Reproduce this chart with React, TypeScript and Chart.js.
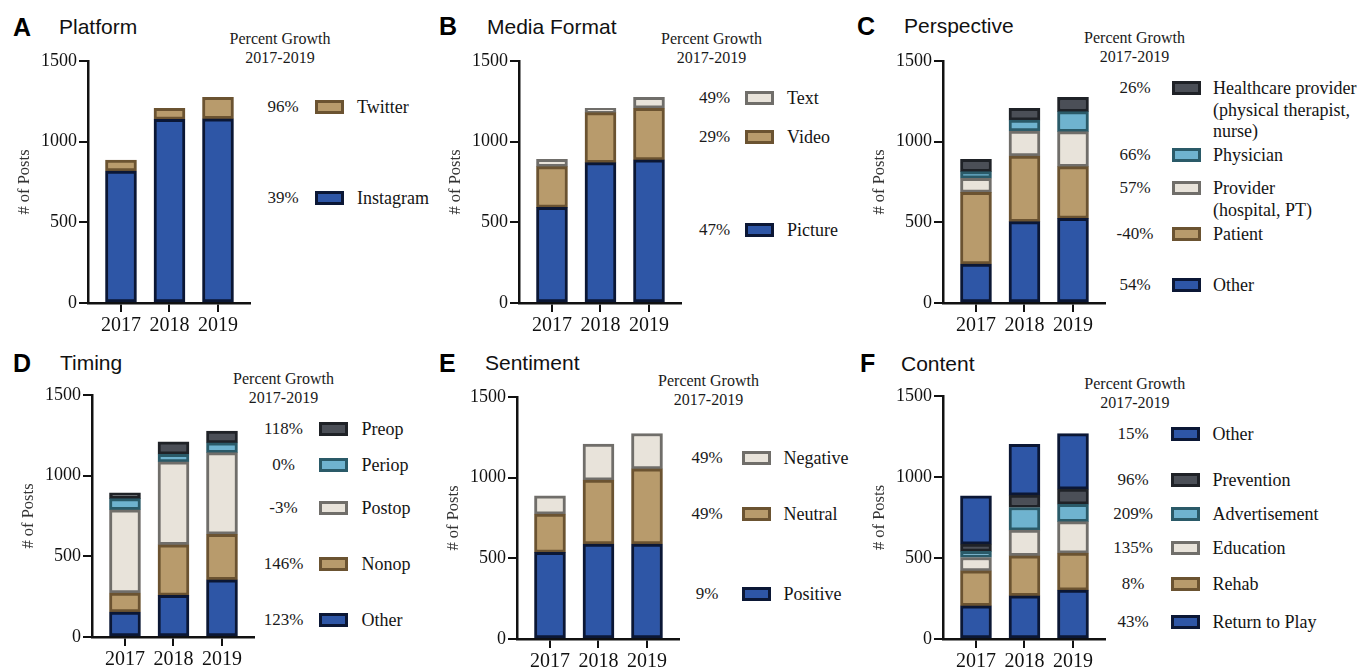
import React, { useEffect, useRef } from 'react';
import { Chart, registerables } from 'chart.js';

Chart.register(...registerables);

// ---------- data ----------
const YEARS = ['2017', '2018', '2019'];
const Y_TICKS = [0, 500, 1000, 1500];
const Y_TICK_LABELS = ['0', '500', '1000', '1500'];

// A Platform
const A_INSTAGRAM = [818, 1138, 1142];
const A_TWITTER = [68, 68, 133];
const A_PCT = ['96%', '39%'];

// B Media Format
const B_PICTURE = [593, 870, 887];
const B_VIDEO = [252, 310, 320];
const B_TEXT = [46, 27, 68];
const B_PCT = ['49%', '29%', '47%'];

// C Perspective
const C_OTHER = [242, 504, 525];
const C_PATIENT = [444, 407, 320];
const C_PROVIDER = [87, 155, 217];
const C_PHYSICIAN = [41, 68, 124];
const C_HEALTHCARE = [77, 73, 89];
const C_PCT = ['26%', '66%', '57%', '-40%', '54%'];

// D Timing
const D_OTHER = [155, 258, 355];
const D_NONOP = [118, 314, 282];
const D_POSTOP = [516, 513, 506];
const D_PERIOP = [69, 48, 60];
const D_PREOP = [35, 76, 74];
const D_PCT = ['118%', '0%', '-3%', '146%', '123%'];

// E Sentiment
const E_POSITIVE = [537, 589, 589];
const E_NEUTRAL = [237, 396, 465];
const E_NEGATIVE = [113, 223, 220];
const E_PCT = ['49%', '49%', '9%'];

// F Content
const F_RTP = [205, 267, 302];
const F_REHAB = [216, 247, 228];
const F_EDUCATION = [82, 158, 195];
const F_ADVERT = [38, 140, 107];
const F_PREVENTION = [45, 76, 93];
const F_OTHER = [298, 314, 343];
const F_PCT = ['15%', '96%', '209%', '135%', '8%', '43%'];

// ---------- styles ----------
const SERIF = '"Liberation Serif", "Times New Roman", serif';
const SANS = '"Liberation Sans", Arial, sans-serif';

const BLUE = { fill: '#2E56A6', border: '#0B1735' };
const TAN = { fill: '#B89B6C', border: '#6B5331' };
const LIGHT = { fill: '#E8E3DA', border: '#706E6A' };
const CYAN = { fill: '#6FB3CF', border: '#2A5A68' };
const DARK = { fill: '#4B4F57', border: '#1F2227' };

type Sty = { fill: string; border: string };
type Series = { name: string[]; data: number[]; sty: Sty };
type Panel = {
  letter: string;
  title: string;
  letterX: number;
  titleX: number;
  titleB: number;
  axisX: number;
  top: number;
  bottom: number;
  headCx: number;
  headB: number;
  pctX: number;
  boxX: number;
  textX: number;
  rows: number[]; // legend row centers, top to bottom
  pcts: string[]; // top to bottom
  series: Series[]; // bottom to top
};

const PANELS: Panel[] = [
  {
    letter: 'A', title: 'Platform', letterX: 13, titleX: 59, titleB: 34.5,
    axisX: 88, top: 61, bottom: 303, headCx: 280, headB: 44.3,
    pctX: 283, boxX: 315, textX: 357, rows: [107, 197.5], pcts: A_PCT,
    series: [
      { name: ['Instagram'], data: A_INSTAGRAM, sty: BLUE },
      { name: ['Twitter'], data: A_TWITTER, sty: TAN },
    ],
  },
  {
    letter: 'B', title: 'Media Format', letterX: 439, titleX: 487, titleB: 34.3,
    axisX: 519.3, top: 61, bottom: 303, headCx: 711.5, headB: 44,
    pctX: 714.5, boxX: 745, textX: 787, rows: [97.7, 136.7, 230], pcts: B_PCT,
    series: [
      { name: ['Picture'], data: B_PICTURE, sty: BLUE },
      { name: ['Video'], data: B_VIDEO, sty: TAN },
      { name: ['Text'], data: B_TEXT, sty: LIGHT },
    ],
  },
  {
    letter: 'C', title: 'Perspective', letterX: 857, titleX: 904, titleB: 33.5,
    axisX: 943.3, top: 61, bottom: 303, headCx: 1134.5, headB: 43.5,
    pctX: 1135, boxX: 1171.5, textX: 1213, rows: [88, 155, 188, 233.5, 284.5], pcts: C_PCT,
    series: [
      { name: ['Other'], data: C_OTHER, sty: BLUE },
      { name: ['Patient'], data: C_PATIENT, sty: TAN },
      { name: ['Provider', '(hospital, PT)'], data: C_PROVIDER, sty: LIGHT },
      { name: ['Physician'], data: C_PHYSICIAN, sty: CYAN },
      { name: ['Healthcare provider', '(physical therapist,', 'nurse)'], data: C_HEALTHCARE, sty: DARK },
    ],
  },
  {
    letter: 'D', title: 'Timing', letterX: 13, titleX: 60, titleB: 370.5,
    axisX: 91.7, top: 395, bottom: 637.3, headCx: 283.5, headB: 384,
    pctX: 283.5, boxX: 319, textX: 361.5, rows: [429, 465, 507.5, 564, 620], pcts: D_PCT,
    series: [
      { name: ['Other'], data: D_OTHER, sty: BLUE },
      { name: ['Nonop'], data: D_NONOP, sty: TAN },
      { name: ['Postop'], data: D_POSTOP, sty: LIGHT },
      { name: ['Periop'], data: D_PERIOP, sty: CYAN },
      { name: ['Preop'], data: D_PREOP, sty: DARK },
    ],
  },
  {
    letter: 'E', title: 'Sentiment', letterX: 439, titleX: 485, titleB: 370.5,
    axisX: 517.3, top: 396.7, bottom: 639, headCx: 708.5, headB: 386,
    pctX: 707, boxX: 741.5, textX: 783.5, rows: [457.5, 514, 594], pcts: E_PCT,
    series: [
      { name: ['Positive'], data: E_POSITIVE, sty: BLUE },
      { name: ['Neutral'], data: E_NEUTRAL, sty: TAN },
      { name: ['Negative'], data: E_NEGATIVE, sty: LIGHT },
    ],
  },
  {
    letter: 'F', title: 'Content', letterX: 860, titleX: 901, titleB: 371,
    axisX: 942.7, top: 395.7, bottom: 639, headCx: 1134.8, headB: 389,
    pctX: 1133, boxX: 1170.5, textX: 1212.5, rows: [434, 480, 514, 547.5, 584, 621.5], pcts: F_PCT,
    series: [
      { name: ['Return to Play'], data: F_RTP, sty: BLUE },
      { name: ['Rehab'], data: F_REHAB, sty: TAN },
      { name: ['Education'], data: F_EDUCATION, sty: LIGHT },
      { name: ['Advertisement'], data: F_ADVERT, sty: CYAN },
      { name: ['Prevention'], data: F_PREVENTION, sty: DARK },
      { name: ['Other'], data: F_OTHER, sty: BLUE },
    ],
  },
];

// ---------- components ----------
function T(props: {
  x: number; b: number; size: number; family: string; weight?: number | string;
  align?: 'left' | 'center'; color?: string; children: React.ReactNode;
}) {
  const { x, b, size, family, weight = 'normal', align = 'left', color = '#141414', children } = props;
  return (
    <div
      style={{
        position: 'absolute',
        left: x,
        top: b - 0.34 * size,
        fontSize: size,
        lineHeight: 0,
        fontFamily: family,
        fontWeight: weight as any,
        whiteSpace: 'nowrap',
        color,
        transform: align === 'center' ? 'translateX(-50%)' : undefined,
      }}
    >
      {children}
    </div>
  );
}

const LEFT_W = 82;
const PAD_TOP = 16;
const X_H = 44;
const AX_W = 162;
const PAD_R = 8;

function BarChart({ p }: { p: Panel }) {
  const ref = useRef<HTMLCanvasElement | null>(null);
  const width = LEFT_W + AX_W + PAD_R;
  const height = PAD_TOP + (p.bottom - p.top) + X_H;
  useEffect(() => {
    if (!ref.current) return;
    const tickColor = '#111';
    const chart = new Chart(ref.current, {
      type: 'bar',
      data: {
        datasets: p.series.map((s) => ({
          label: s.name.join(' '),
          data: s.data.map((v, i) => ({ x: i, y: v })),
          backgroundColor: s.sty.fill,
          borderColor: s.sty.border,
          borderWidth: 3,
          borderSkipped: false,
          barThickness: 31,
          stack: 's',
        })) as any,
      },
      options: {
        animation: false,
        responsive: false,
        maintainAspectRatio: false,
        layout: { padding: { top: PAD_TOP, right: PAD_R, left: 0, bottom: 0 } },
        plugins: { legend: { display: false }, tooltip: { enabled: false } },
        scales: {
          x: {
            type: 'linear',
            stacked: true,
            offset: false,
            min: -0.68,
            max: 2.66,
            afterBuildTicks: (s: any) => {
              s.ticks = YEARS.map((_, i) => ({ value: i }));
            },
            afterFit: (s: any) => {
              s.height = X_H;
            },
            ticks: {
              callback: (v: any) => YEARS[Math.round(Number(v))] ?? '',
              font: { family: SERIF, size: 20 },
              color: tickColor,
              padding: 2,
              autoSkip: false,
              maxRotation: 0,
              minRotation: 0,
            },
            grid: { offset: false, drawOnChartArea: false, drawTicks: true, tickLength: 9, color: tickColor, lineWidth: 2 },
            border: { color: tickColor, width: 2.5 },
          },
          y: {
            type: 'linear',
            stacked: true,
            min: 0,
            max: 1500,
            afterBuildTicks: (s: any) => {
              s.ticks = Y_TICKS.map((v) => ({ value: v }));
            },
            afterFit: (s: any) => {
              s.width = LEFT_W;
            },
            ticks: {
              callback: (v: any) => Y_TICK_LABELS[Y_TICKS.indexOf(Number(v))] ?? '',
              font: { family: SERIF, size: 18 },
              color: tickColor,
              padding: 2,
            },
            grid: { drawOnChartArea: false, drawTicks: true, tickLength: 9, color: tickColor, lineWidth: 2 },
            border: { color: tickColor, width: 2.5 },
            title: {
              display: true,
              text: '# of Posts',
              font: { family: SERIF, size: 16.5 },
              color: '#333',
              padding: { top: 9, bottom: 0 },
            },
          },
        },
      } as any,
    });
    return () => chart.destroy();
  }, []);
  return (
    <canvas
      ref={ref}
      width={width}
      height={height}
      style={{ position: 'absolute', left: p.axisX - LEFT_W, top: p.top - PAD_TOP, width, height }}
    />
  );
}

function PanelView({ p }: { p: Panel }) {
  const legendItems = [...p.series].reverse();
  return (
    <>
      <T x={p.letterX} b={p.titleB + 0.5} size={25} family={SANS} weight="bold" color="#000">
        {p.letter}
      </T>
      <T x={p.titleX} b={p.titleB} size={21} family={SANS} color="#111">
        {p.title}
      </T>
      <T x={p.headCx} b={p.headB} size={16} family={SERIF} align="center" color="#1a1a1a">
        Percent Growth
      </T>
      <T x={p.headCx} b={p.headB + 19} size={16} family={SERIF} align="center" color="#1a1a1a">
        2017-2019
      </T>
      <BarChart p={p} />
      {legendItems.map((s, i) => {
        const y = p.rows[i];
        return (
          <React.Fragment key={i}>
            <T x={p.pctX} b={y + 6} size={17} family={SERIF} align="center" color="#1a1a1a">
              {p.pcts[i]}
            </T>
            <div
              style={{
                position: 'absolute',
                left: p.boxX,
                top: y - 7,
                width: 29,
                height: 14,
                boxSizing: 'border-box',
                background: s.sty.fill,
                border: `3px solid ${s.sty.border}`,
              }}
            />
            {s.name.map((line, j) => (
              <T key={j} x={p.textX} b={y + 6.5 + j * 21.5} size={18} family={SERIF} color="#141414">
                {line}
              </T>
            ))}
          </React.Fragment>
        );
      })}
    </>
  );
}

export default function App() {
  return (
    <div
      style={{
        position: 'absolute',
        left: 0,
        top: 0,
        width: 1359,
        height: 668,
        overflow: 'hidden',
        background: '#fff',
      }}
    >
      {PANELS.map((p) => (
        <PanelView key={p.letter} p={p} />
      ))}
    </div>
  );
}
